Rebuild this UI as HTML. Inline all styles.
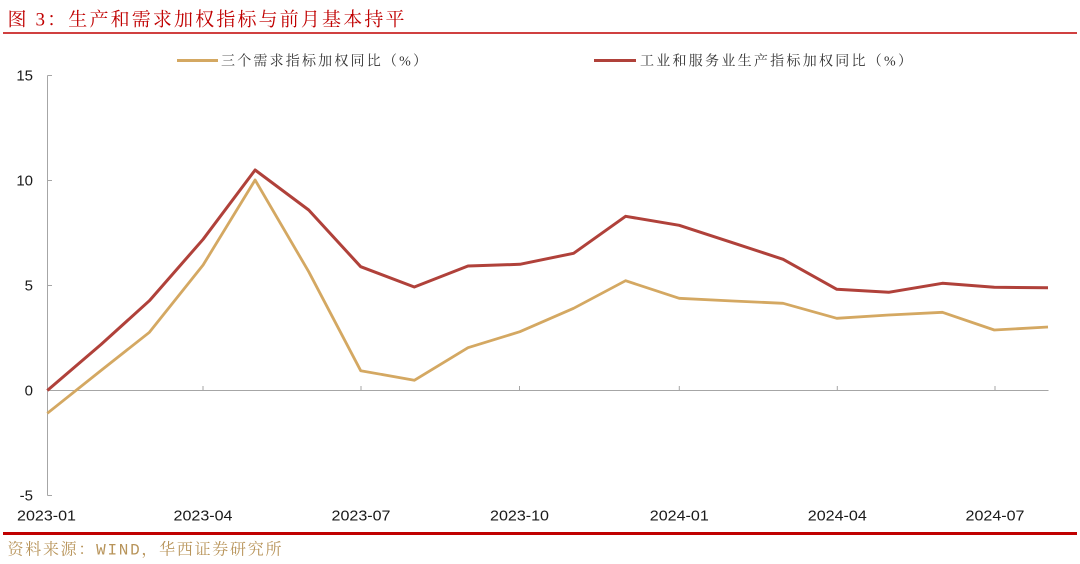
<!DOCTYPE html>
<html>
<head>
<meta charset="utf-8">
<style>
  html, body { margin:0; padding:0; background:#ffffff; }
  body { width:1080px; height:564px; overflow:hidden; }
  svg { display:block; }
  .cjk { font-family: "Liberation Serif", "Noto Serif CJK SC", serif; }
  .num { font-family: "Liberation Sans", "Noto Sans CJK SC", sans-serif; fill:#1a1a1a; font-size:15px; }
</style>
</head>
<body>
<svg width="1080" height="564" viewBox="0 0 1080 564" xmlns="http://www.w3.org/2000/svg">
  <rect x="0" y="0" width="1080" height="564" fill="#ffffff"/>

  <!-- Title -->
  <text class="cjk" x="7.5" y="25.5" font-size="19" fill="#c00000" textLength="397" lengthAdjust="spacing">图 3：生产和需求加权指标与前月基本持平</text>
  <line x1="3" y1="33" x2="1077" y2="33" stroke="#c00000" stroke-width="1.5"/>

  <!-- Legend -->
  <line x1="177" y1="60.5" x2="218" y2="60.5" stroke="#d4a862" stroke-width="3"/>
  <text class="cjk" x="221" y="65.5" font-size="14" fill="#333333" textLength="206" lengthAdjust="spacing">三个需求指标加权同比（%）</text>
  <line x1="594" y1="60.5" x2="636" y2="60.5" stroke="#b0413a" stroke-width="3"/>
  <text class="cjk" x="640" y="65.5" font-size="14" fill="#333333" textLength="272" lengthAdjust="spacing">工业和服务业生产指标加权同比（%）</text>

  <!-- Axes -->
  <g stroke="#a6a6a6" stroke-width="1" fill="none">
    <line x1="47.5" y1="75.5" x2="47.5" y2="495.5"/>
    <line x1="47.5" y1="75.5" x2="52" y2="75.5"/>
    <line x1="47.5" y1="180.5" x2="52" y2="180.5"/>
    <line x1="47.5" y1="285.5" x2="52" y2="285.5"/>
    <line x1="47.5" y1="495.5" x2="52" y2="495.5"/>
    <line x1="47.5" y1="390.5" x2="1048.5" y2="390.5"/>
    <line x1="203" y1="390.5" x2="203" y2="386"/>
    <line x1="361" y1="390.5" x2="361" y2="386"/>
    <line x1="519.5" y1="390.5" x2="519.5" y2="386"/>
    <line x1="679.3" y1="390.5" x2="679.3" y2="386"/>
    <line x1="837.3" y1="390.5" x2="837.3" y2="386"/>
    <line x1="995" y1="390.5" x2="995" y2="386"/>
  </g>

  <!-- Y labels -->
  <g class="num" text-anchor="end">
    <text x="33" y="80.7">15</text>
    <text x="33" y="185.7">10</text>
    <text x="33" y="290.7">5</text>
    <text x="33" y="395.7">0</text>
    <text x="33" y="500.7">-5</text>
  </g>

  <!-- X labels -->
  <g class="num">
    <text x="17" y="520.5" textLength="59" lengthAdjust="spacingAndGlyphs">2023-01</text>
    <text x="173.5" y="520.5" textLength="59" lengthAdjust="spacingAndGlyphs">2023-04</text>
    <text x="331.5" y="520.5" textLength="59" lengthAdjust="spacingAndGlyphs">2023-07</text>
    <text x="490" y="520.5" textLength="59" lengthAdjust="spacingAndGlyphs">2023-10</text>
    <text x="649.8" y="520.5" textLength="59" lengthAdjust="spacingAndGlyphs">2024-01</text>
    <text x="807.8" y="520.5" textLength="59" lengthAdjust="spacingAndGlyphs">2024-04</text>
    <text x="965.5" y="520.5" textLength="59" lengthAdjust="spacingAndGlyphs">2024-07</text>
  </g>

  <!-- Series: yellow (demand) -->
  <polyline fill="none" stroke="#d4a862" stroke-width="2.8" stroke-linejoin="round"
    points="47.3,413.3 101.0,370.5 149.4,332.3 203.1,265.0 255.1,180.0 308.7,271.7 360.7,370.7 414.3,380.3 468.0,347.7 519.9,331.7 573.6,308.3 625.6,280.7 679.2,298.3 732.9,301.0 783.1,303.3 836.8,318.3 888.7,315.0 942.4,312.3 994.3,330.0 1048.0,327.0"/>

  <!-- Series: red (production) -->
  <polyline fill="none" stroke="#b0413a" stroke-width="3" stroke-linejoin="round"
    points="47.3,390.5 101.0,344.5 149.4,300.7 203.1,239.3 255.1,170.0 308.7,210.0 360.7,266.7 414.3,287.0 468.0,266.0 519.9,264.3 573.6,253.3 625.6,216.3 679.2,225.3 732.9,242.8 783.1,259.3 836.8,289.3 888.7,292.3 942.4,283.3 994.3,287.3 1048.0,287.7"/>

  <!-- Bottom rule and source -->
  <line x1="3" y1="533.5" x2="1077" y2="533.5" stroke="#c00000" stroke-width="3"/>
  <text class="cjk" x="7.5" y="554.5" font-size="16" fill="#b8945a" textLength="274" lengthAdjust="spacing">资料来源：<tspan font-family="Liberation Mono, monospace">WIND</tspan>，华西证券研究所</text>
</svg>
</body>
</html>
